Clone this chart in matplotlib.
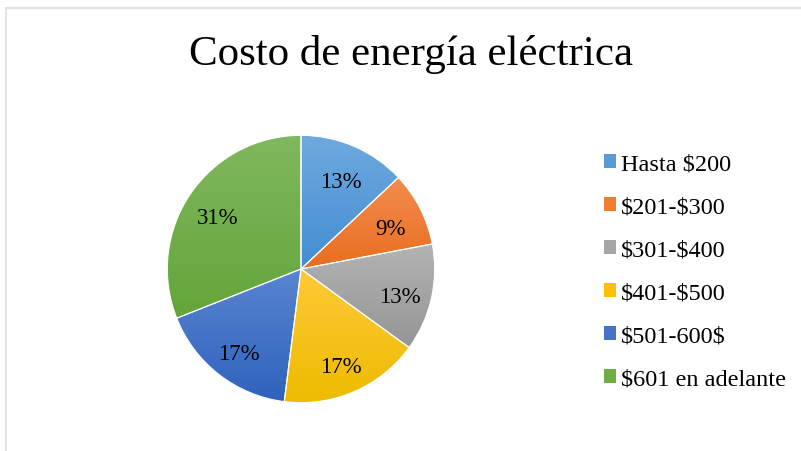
import numpy as np
import matplotlib.pyplot as plt
import matplotlib.transforms as mtransforms
from matplotlib.colors import LinearSegmentedColormap
from matplotlib.patches import Patch
from matplotlib.lines import Line2D

plt.rcParams['font.family'] = ['Liberation Serif', 'DejaVu Serif']
plt.rcParams['text.parse_math'] = False

title = "Costo de energía eléctrica"
categories = ["Hasta $200", "$201-$300", "$301-$400", "$401-$500",
              "$501-600$", "$601 en adelante"]
values = [13, 9, 13, 17, 17, 31]
# base colour, gradient top, gradient bottom
base_colors = ["#5b9bd5", "#ed7d31", "#a5a5a5", "#ffc000", "#4472c4", "#70ad47"]
top_colors = ["#70a9de", "#f28c4f", "#b3b3b3", "#ffc938", "#5985d0", "#80b85e"]
bottom_colors = ["#428dd3", "#e96e1f", "#959595", "#edbb00", "#2f62bd", "#63a53a"]


fig = plt.figure(figsize=(8.01, 4.52), dpi=100)
fig.patch.set_facecolor('white')

# chart area frame (only top / left edges visible)
fig.add_artist(Line2D([6 / 801, 6 / 801], [0, 1 - 9 / 452], transform=fig.transFigure,
                      color='#d9dee6', lw=1.2))
fig.add_artist(Line2D([6 / 801, 1], [1 - 9 / 452, 1 - 9 / 452], transform=fig.transFigure,
                      color='#d9dee6', lw=1.2))

fig.text(411 / 801, 1 - 55 / 452, title, ha='center', va='center', fontsize=31)

ax = fig.add_axes([166 / 801, 1 - 405 / 452, 270 / 801, 270 / 452])
wedges, texts, autotexts = ax.pie(values, startangle=90, counterclock=False,
                                  colors=base_colors, autopct='%1.0f%%',
                                  pctdistance=0.755, radius=1,
                                  wedgeprops=dict(edgecolor='white', linewidth=0.8),
                                  textprops=dict(fontsize=16.5, color='black'))

# vertical gradient on each slice
for w, c_top, c_bot in zip(wedges, top_colors, bottom_colors):
    ext = w.get_path().get_extents()
    cmap = LinearSegmentedColormap.from_list('g', [c_bot, c_top])
    grad = np.linspace(0, 1, 256).reshape(-1, 1)
    im = ax.imshow(grad, cmap=cmap, origin='lower', aspect='auto',
                   extent=[ext.x0, ext.x1, ext.y0, ext.y1], zorder=1)
    im.set_clip_path(w)
    w.set_facecolor('none')
    w.set_zorder(2)

shift = mtransforms.offset_copy(ax.transData, fig=fig, x=0, y=-2.5, units='dots')
for t in autotexts:
    t.set_zorder(3)
    t.set_va('center_baseline')
    t.set_transform(shift)

ax.set_xlim(-1.01, 1.01)
ax.set_ylim(-1.01, 1.01)
ax.set_aspect('equal')
ax.axis('off')

handles = [Patch(facecolor=c, edgecolor='none') for c in base_colors]
fig.legend(handles, categories, loc='upper left',
           bbox_to_anchor=(604 / 801, 1 - 155 / 452), frameon=False,
           fontsize=17.5, handlelength=0.5, handleheight=0.5,
           handletextpad=0.2, labelspacing=0.9, borderpad=0, borderaxespad=0)

fig.savefig('out.png', dpi=100)
